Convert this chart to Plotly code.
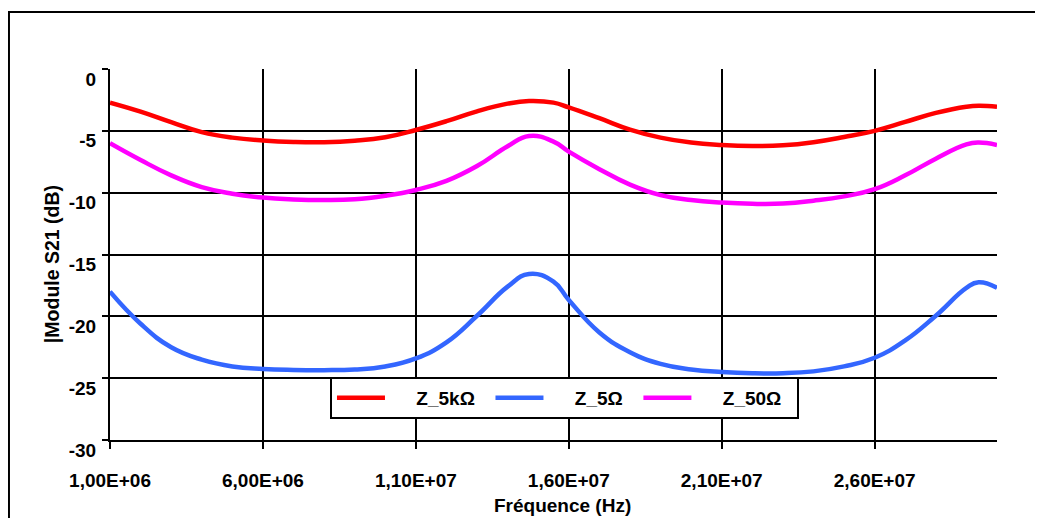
import plotly.graph_objects as go

freq_mhz = [1, 2, 3, 4, 5, 6, 7, 8, 9, 10, 11, 12, 13, 14, 14.7, 15.5, 16, 17, 18, 19, 20,
            21, 22, 23, 24, 25, 26, 27, 28, 29, 29.4, 30]

z_5k = [-2.72, -3.45, -4.3, -5.1, -5.55, -5.78, -5.9, -5.92, -5.8, -5.52, -4.93, -4.22, -3.42,
        -2.8, -2.59, -2.72, -3.1, -3.98, -4.9, -5.55, -5.95, -6.14, -6.22, -6.17, -5.92, -5.5,
        -5.0, -4.28, -3.55, -3.05, -2.97, -3.05]

z_5 = [-18.0, -20.6, -22.5, -23.5, -24.05, -24.25, -24.33, -24.35, -24.3, -24.05, -23.4, -22.1,
       -19.95, -17.6, -16.57, -17.2, -18.67, -21.3, -22.9, -23.85, -24.3, -24.5, -24.6, -24.6,
       -24.45, -24.05, -23.35, -21.95, -19.95, -17.7, -17.25, -17.7]

z_50 = [-6.0, -7.36, -8.6, -9.55, -10.08, -10.4, -10.55, -10.6, -10.54, -10.25, -9.78, -9.05,
        -7.85, -6.25, -5.42, -5.87, -6.68, -8.1, -9.35, -10.2, -10.6, -10.8, -10.9, -10.88,
        -10.65, -10.3, -9.72, -8.6, -7.25, -6.1, -5.95, -6.15]

series_names = ["Z_5kΩ", "Z_5Ω", "Z_50Ω"]
series_colors = ["#FF0000", "#3366FF", "#FF00FF"]

x_tick_vals = [1e6, 6e6, 11e6, 16e6, 21e6, 26e6]
x_tick_text = ["1,00E+06", "6,00E+06", "1,10E+07", "1,60E+07", "2,10E+07", "2,60E+07"]
y_tick_vals = [0, -5, -10, -15, -20, -25, -30]
y_tick_text = ["0", "-5", "-10", "-15", "-20", "-25", "-30"]
x_title = "Fréquence (Hz)"
y_title = "|Module S21 (dB)"

freq_hz = [f * 1e6 for f in freq_mhz]

NB = "\u00a0"
fig = go.Figure()
for name, ys, col in zip(series_names, [z_5k, z_5, z_50], series_colors):
    fig.add_trace(go.Scatter(x=freq_hz, y=ys, name=NB * 5 + name + NB * 2, mode="lines",
                             line=dict(color=col, width=4.5, shape="spline", smoothing=1.3)))

font_family = "Liberation Sans, Arial, sans-serif"

# the page body has an 8px margin: compensate so the plot lands where intended
fig.update_layout(
    width=1035, height=510,
    margin=dict(l=102, r=46, t=61, b=78, autoexpand=False),
    paper_bgcolor="white", plot_bgcolor="white",
    font=dict(family=font_family, color="black", size=18),
    showlegend=True,
    legend=dict(orientation="h", x=0.248, y=0.17, xanchor="left", yanchor="top",
                bgcolor="white", bordercolor="black", borderwidth=2,
                font=dict(size=19, family=font_family, color="black", weight="bold"),
                itemwidth=48, tracegroupgap=0),
    xaxis=dict(range=[1e6, 3e7], tickvals=x_tick_vals, ticktext=x_tick_text,
               showgrid=True, gridcolor="black", gridwidth=2,
               showline=True, linecolor="black", linewidth=2,
               ticks="outside", ticklen=7, tickwidth=2, tickcolor="black",
               tickfont=dict(size=19, weight="bold"), ticklabelstandoff=15,
               zeroline=False, automargin=False),
    yaxis=dict(range=[-30, 0], tickvals=y_tick_vals, ticktext=y_tick_text,
               showgrid=True, gridcolor="black", gridwidth=2,
               showline=True, linecolor="black", linewidth=2,
               ticks="outside", ticklen=6, tickwidth=2, tickcolor="black",
               tickfont=dict(size=19, weight="bold"), ticklabelshift=10,
               ticklabelstandoff=2,
               zeroline=False, automargin=False),
    annotations=[
        dict(text="<b>" + x_title + "</b>", xref="paper", yref="paper", x=0.5096, y=-0.176,
             xanchor="center", yanchor="middle", showarrow=False,
             font=dict(size=19, family=font_family, color="black")),
        dict(text="<b>" + y_title + "</b>", xref="paper", yref="paper", x=-0.0654, y=0.474,
             xanchor="center", yanchor="middle", showarrow=False, textangle=-90,
             font=dict(size=19.5, family=font_family, color="black")),
    ],
    shapes=[dict(type="rect", xref="paper", yref="paper",
                 x0=-0.1139, x1=1.08, y0=-0.25, y1=1.1536,
                 line=dict(color="black", width=2), fillcolor="rgba(0,0,0,0)", layer="below")],
)

fig.write_html("out.html")
